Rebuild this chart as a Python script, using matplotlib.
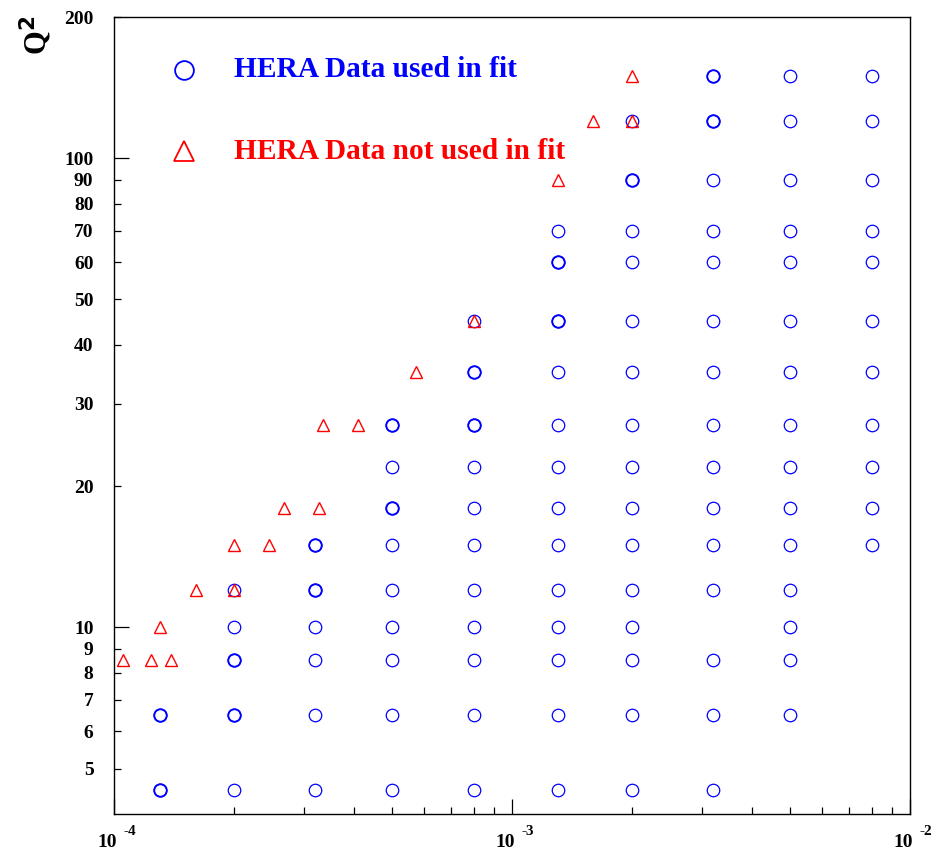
import matplotlib.pyplot as plt
from matplotlib.ticker import FixedLocator, NullFormatter

plt.rcParams['font.family'] = ['Liberation Serif', 'DejaVu Serif']
plt.rcParams['font.weight'] = 'bold'

# x bins of the measurement grid
x_bins = [1.3e-4, 2e-4, 3.2e-4, 5e-4, 8e-4, 1.3e-3, 2e-3, 3.2e-3, 5e-3, 8e-3]

# Q^2 values used in the fit, one list per x bin
q2_used = [
    [4.5, 6.5],
    [4.5, 6.5, 8.5, 10, 12],
    [4.5, 6.5, 8.5, 10, 12, 15],
    [4.5, 6.5, 8.5, 10, 12, 15, 18, 22, 27],
    [4.5, 6.5, 8.5, 10, 12, 15, 18, 22, 27, 35, 45],
    [4.5, 6.5, 8.5, 10, 12, 15, 18, 22, 27, 35, 45, 60, 70],
    [4.5, 6.5, 8.5, 10, 12, 15, 18, 22, 27, 35, 45, 60, 70, 90, 120],
    [4.5, 6.5, 8.5, 12, 15, 18, 22, 27, 35, 45, 60, 70, 90, 120, 150],
    [6.5, 8.5, 10, 12, 15, 18, 22, 27, 35, 45, 60, 70, 90, 120, 150],
    [15, 18, 22, 27, 35, 45, 60, 70, 90, 120, 150],
]

# points measured twice (both experiments) - drawn heavier
both_x = [1.3e-4, 1.3e-4, 2e-4, 2e-4, 3.2e-4, 3.2e-4, 5e-4, 5e-4,
          8e-4, 8e-4, 1.3e-3, 1.3e-3, 2e-3, 3.2e-3, 3.2e-3]
both_q2 = [4.5, 6.5, 6.5, 8.5, 12, 15, 18, 27,
           27, 35, 45, 60, 90, 120, 150]

# points not used in the fit
notused_x = [1.05e-4, 1.24e-4, 1.39e-4, 1.3e-4, 1.6e-4, 2e-4, 2e-4, 2.45e-4,
             2.67e-4, 3.27e-4, 3.35e-4, 4.1e-4, 5.73e-4, 8e-4, 1.3e-3,
             1.6e-3, 2e-3, 2e-3]
notused_q2 = [8.5, 8.5, 8.5, 10, 12, 12, 15, 15,
              18, 18, 27, 27, 35, 45, 90,
              120, 120, 150]

y_ticks = [5, 6, 7, 8, 9, 10, 20, 30, 40, 50, 60, 70, 80, 90, 100, 200]
x_decades = [1e-4, 1e-3, 1e-2]
x_exps = ['-4', '-3', '-2']

blue = '#0000ff'
red = '#ff0000'

used_x = [x for x, qs in zip(x_bins, q2_used) for _ in qs]
used_q2 = [q for qs in q2_used for q in qs]

fig = plt.figure(figsize=(9.33, 8.51), dpi=100)
ax = fig.add_axes([0.1225, 0.0435, 0.853, 0.9365])

ax.plot(used_x, used_q2, 'o', ls='none', ms=9, mfc='none', mec=blue, mew=0.9)
ax.plot(both_x, both_q2, 'o', ls='none', ms=9, mfc='none', mec=blue, mew=1.35)
ax.plot(notused_x, notused_q2, '^', ls='none', ms=9.3, mfc='none', mec=red, mew=1.0)

ax.set_xscale('log')
ax.set_yscale('log')
ax.set_xlim(1e-4, 1e-2)
ax.set_ylim(4.0, 200)

for s in ax.spines.values():
    s.set_linewidth(1.0)

# x axis: decade ticks, labels drawn by hand
ax.xaxis.set_major_locator(FixedLocator(x_decades))
ax.xaxis.set_minor_locator(FixedLocator([m * d for d in [1e-4, 1e-3] for m in range(2, 10)]))
ax.xaxis.set_major_formatter(NullFormatter())
ax.xaxis.set_minor_formatter(NullFormatter())
ax.tick_params(axis='x', which='major', direction='in', length=10.8, width=0.9, top=False)
ax.tick_params(axis='x', which='minor', direction='in', length=5.2, width=0.9, top=False)

for xv, ex in zip(x_decades, x_exps):
    ax.annotate('10', xy=(xv, 0), xycoords=('data', 'axes fraction'),
                xytext=(3, -33), textcoords='offset pixels',
                ha='right', va='baseline', fontsize=14, fontweight='bold')
    ax.annotate(ex, xy=(xv, 0), xycoords=('data', 'axes fraction'),
                xytext=(9, -21), textcoords='offset pixels',
                ha='left', va='baseline', fontsize=11, fontweight='bold')

# y axis: every labelled value
ax.yaxis.set_major_locator(FixedLocator([10, 100]))
ax.yaxis.set_minor_locator(FixedLocator([v for v in y_ticks if v not in (10, 100)]))
ax.yaxis.set_major_formatter(lambda v, p: f'{v:g}')
ax.yaxis.set_minor_formatter(lambda v, p: f'{v:g}')
ax.tick_params(axis='y', which='major', direction='in', length=10.8, width=0.9,
               right=False, pad=15, labelsize=14)
ax.tick_params(axis='y', which='minor', direction='in', length=5.2, width=0.9,
               right=False, pad=15, labelsize=14)
for lab in ax.get_yticklabels(which='both'):
    lab.set_fontweight('bold')

fig.text(36 / 933, 1 - 35 / 851, 'Q$^{\\mathbf{2}}$', rotation=90, ha='center', va='center',
         fontsize=22, fontweight='bold')

# legend
ax.plot([0.0876], [0.9335], 'o', transform=ax.transAxes, ms=13.5, mfc='none', mec=blue, mew=1.3,
        clip_on=False)
ax.plot([0.0876], [0.8319], '^', transform=ax.transAxes, ms=14, mfc='none', mec=red, mew=1.3,
        clip_on=False)
ax.text(0.1504, 0.925, 'HERA Data used in fit', transform=ax.transAxes, color=blue,
        fontsize=21.2, fontweight='bold', va='baseline')
ax.text(0.1504, 0.822, 'HERA Data not used in fit', transform=ax.transAxes, color=red,
        fontsize=21.2, fontweight='bold', va='baseline')

fig.savefig('out.png', dpi=100)
